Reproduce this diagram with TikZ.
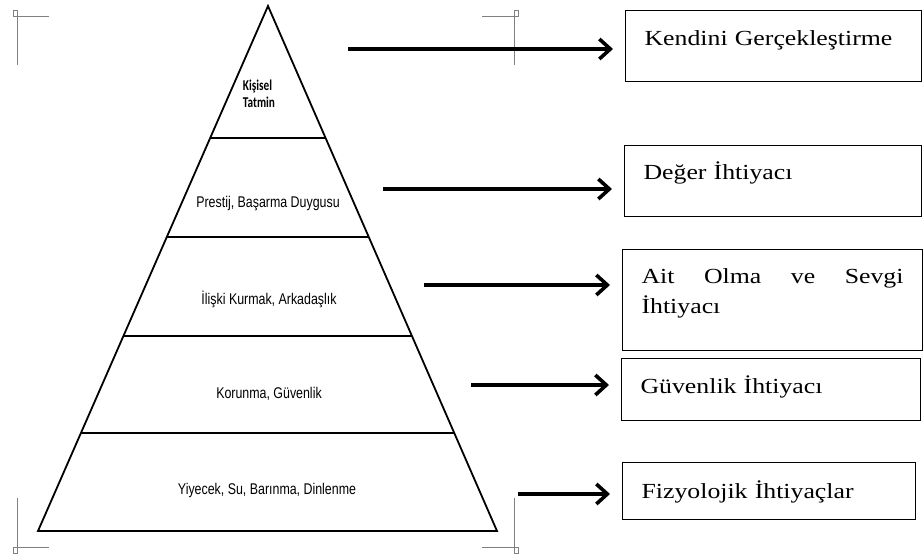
\documentclass[tikz,border=0pt]{standalone}
\usepackage{fontspec}
\setmainfont{Liberation Serif}
\newfontfamily\kutufont[FakeStretch=1.2]{Liberation Serif}
\newfontfamily\piramitfont[FakeStretch=0.8]{Liberation Sans}
\newfontfamily\tepefont[FakeStretch=0.75]{Carlito}
\usetikzlibrary{positioning, arrows.meta, calc}

\begin{document}
\begin{tikzpicture}[x=1pt, y=-1pt,
	kesme/.style={draw=gray, line width=0.9pt},
	kenar/.style={line width=1.8pt, line join=miter},
	kat/.style={line width=2.4pt},
	etiket/.style={font=\piramitfont\fontsize{15.5}{18}\selectfont, inner sep=0pt, anchor=base},
	tepeyazi/.style={font=\tepefont\bfseries\fontsize{15}{17}\selectfont, inner sep=0pt, align=left},
	kutu/.style={draw, line width=1.1pt, anchor=north west, inner xsep=19pt, inner ysep=0pt,
		align=left, font=\kutufont\fontsize{21.5}{30}\selectfont},
	ok/.style={line width=3.6pt, -{Straight Barb[length=11pt, width=20pt]}, shorten >=12pt}]
	
	\useasboundingbox (0,0) rectangle (923,557);
	
	% Corner marks
	\foreach \cx/\cy/\sx/\sy in {17/16/-1/-1, 514/16/1/-1, 17/547/-1/1, 514/547/1/1}
	\draw[kesme] ({\cx},{\cy-(\sy)*49}) -- ({\cx},{\cy}) -- ({\cx-(\sx)*32},{\cy})
	({\cx},{\cy}) rectangle ({\cx+(\sx)*4},{\cy+(\sy)*6});
	
	% Draw pyramid
	\coordinate (tepe) at (268,6);
	\coordinate (sol) at (38,531);
	\coordinate (sag) at (497,531);
	\draw[kenar] (tepe) -- (sol) -- (sag) -- cycle;
	\foreach \t in {0.2514, 0.44, 0.6286, 0.8133}
	\draw[kat] ($(tepe)!\t!(sol)$) -- ($(tepe)!\t!(sag)$);
	
	% Pyramid labels
	\node[tepeyazi] (p1) at (259,94) {Kişisel\\Tatmin};
	\node[etiket] (p2) at (268,207) {Prestij, Başarma Duygusu};
	\node[etiket] (p3) at (269,304) {İlişki Kurmak, Arkadaşlık};
	\node[etiket] (p4) at (269,398) {Korunma, Güvenlik};
	\node[etiket] (p5) at (267,494) {Yiyecek, Su, Barınma, Dinlenme};
	
	% Needs boxes
	\node[kutu, text width=258pt, text height=35pt, text depth=36pt] (k1) at (625,10) {Kendini Gerçekleştirme};
	\node[kutu, text width=259pt, text height=34pt, text depth=37pt] (k2) at (624,145) {Değer İhtiyacı};
	\node[kutu, text width=262pt, text height=34pt, text depth=67pt] (k3) at (622,249) {Ait\hfill Olma\hfill ve\hfill Sevgi\\İhtiyacı};
	\node[kutu, text width=261pt, text height=35pt, text depth=27pt] (k4) at (621,358) {Güvenlik İhtiyacı};
	\node[kutu, text width=255pt, text height=36pt, text depth=21pt] (k5) at (622,462) {Fizyolojik İhtiyaçlar};
	
	% Arrows
	\coordinate (o1) at (348,49);
	\coordinate (o2) at (383,189);
	\coordinate (o3) at (424,285);
	\coordinate (o4) at (471,385);
	\coordinate (o5) at (518,494);
	\foreach \i in {1,...,5}
	\draw[ok] (o\i) -- (o\i -| k\i.west);
	
\end{tikzpicture}
\end{document}
